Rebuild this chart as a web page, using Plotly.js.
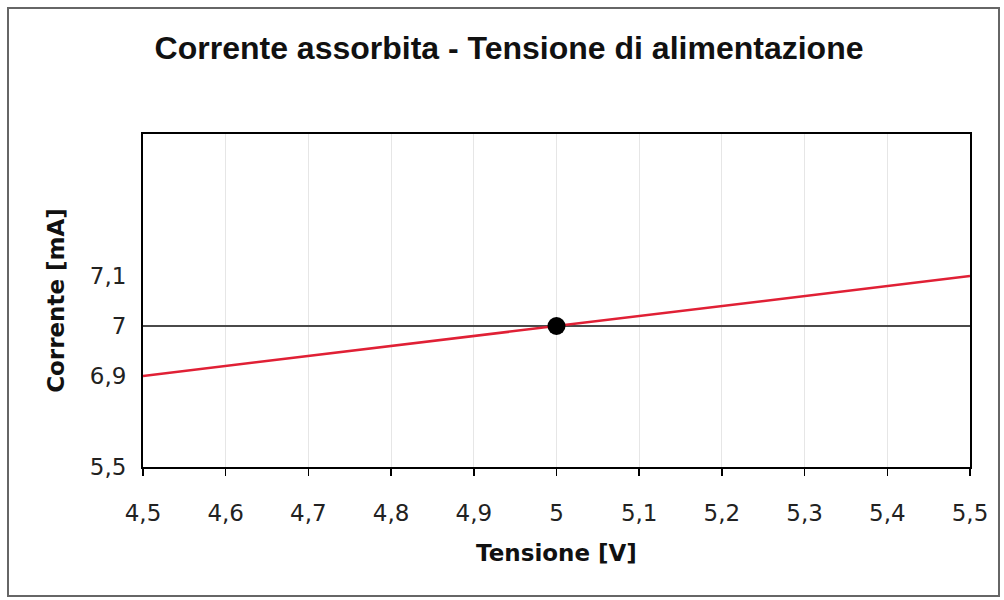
<!DOCTYPE html>
<html>
<head>
<meta charset="utf-8">
<script src="https://cdn.plot.ly/plotly-3.0.1.min.js"></script>
<style>
html,body{margin:0;padding:0;background:#fff;}
#wrap{position:relative;width:1004px;height:600px;}
#chart{width:1004px;height:600px;}
#frame{position:absolute;left:7px;top:7px;width:993px;height:590px;border:2px solid #666;pointer-events:none;box-sizing:border-box;}
</style>
</head>
<body>
<div id="wrap"><div id="chart"></div><div id="frame"></div></div>
<script>
// Data
const voltage = [4.5, 5.5];
const current = [6.9, 7.1];
const refVoltage = [4.5, 5.5];
const refCurrent = [7, 7];
const pointVoltage = [5];
const pointCurrent = [7];
const xTickVals = [4.5, 4.6, 4.7, 4.8, 4.9, 5, 5.1, 5.2, 5.3, 5.4, 5.5];
const xTickText = ['4,5','4,6','4,7','4,8','4,9','5','5,1','5,2','5,3','5,4','5,5'];
const yTickVals = [6.718, 6.9, 7, 7.1];
const yTickText = ['5,5','6,9','7','7,1'];

const traces = [
  {x: refVoltage, y: refCurrent, mode: 'lines', line: {color: '#4a4a4a', width: 2}, hoverinfo: 'skip'},
  {x: voltage, y: current, mode: 'lines', line: {color: '#e02035', width: 2.5}},
  {x: pointVoltage, y: pointCurrent, mode: 'markers', marker: {color: '#000', size: 18}}
];

const layout = {
  width: 1004, height: 600,
  margin: {l: 143, r: 34, t: 134, b: 133},
  paper_bgcolor: '#fff', plot_bgcolor: '#fff',
  showlegend: false,
  title: {text: 'Corrente assorbita - Tensione di alimentazione', x: 0.507, xanchor: 'center', y: 0.92, yanchor: 'middle',
          font: {family: 'Liberation Sans, Arial, sans-serif', size: 32, color: '#111', weight: 'bold'}},
  xaxis: {
    range: [4.5, 5.5], tickvals: xTickVals, ticktext: xTickText,
    showgrid: true, gridcolor: '#e6e6e6', gridwidth: 1,
    zeroline: false, showline: true, linecolor: '#000', linewidth: 2, mirror: true,
    ticks: 'outside', ticklen: 7, tickwidth: 1.5, tickcolor: '#000',
    ticklabelstandoff: 17,
    tickfont: {family: 'DejaVu Sans, Verdana, sans-serif', size: 23, color: '#222'},
    title: {text: 'Tensione [V]', standoff: 20, font: {family: 'DejaVu Sans, Verdana, sans-serif', size: 23, color: '#111', weight: 'bold'}}
  },
  yaxis: {
    range: [6.718, 7.384], tickvals: yTickVals, ticktext: yTickText,
    showgrid: false, zeroline: false, showline: true, linecolor: '#000', linewidth: 2, mirror: true,
    ticks: 'outside', ticklen: 6, tickwidth: 1.5, tickcolor: '#fff',
    ticklabelstandoff: 4,
    tickfont: {family: 'DejaVu Sans, Verdana, sans-serif', size: 23, color: '#222'},
    title: {text: 'Corrente [mA]', standoff: 19, font: {family: 'DejaVu Sans, Verdana, sans-serif', size: 23, color: '#111', weight: 'bold'}}
  }
};
Plotly.newPlot('chart', traces, layout, {staticPlot: true});
</script>
</body>
</html>
